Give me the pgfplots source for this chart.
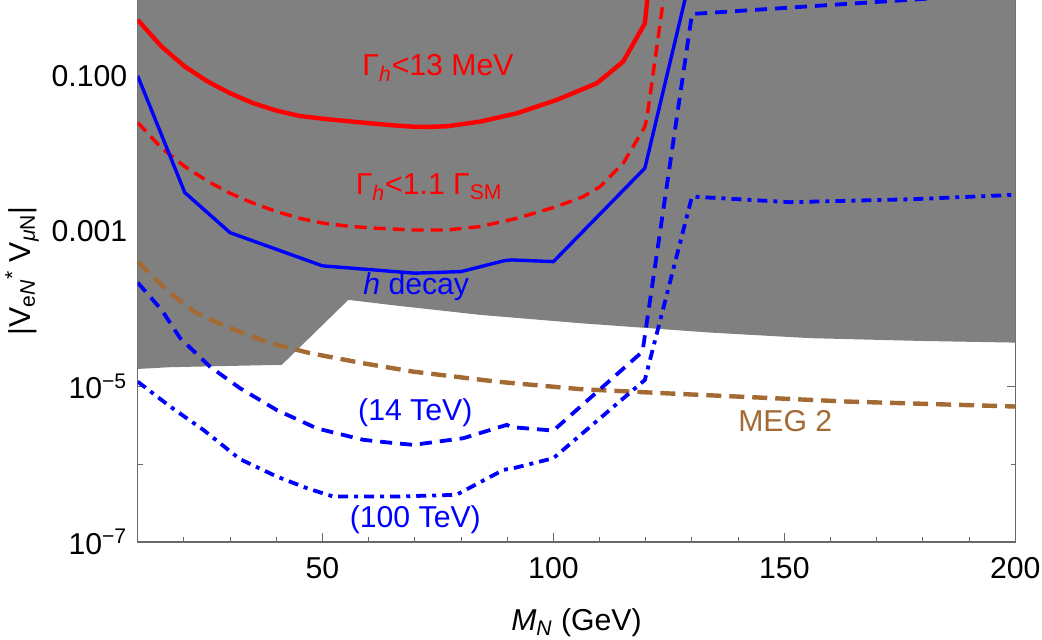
\documentclass[border=0pt]{standalone}
\usepackage{fontspec}
\setmainfont{Liberation Sans}
\usepackage{pgfplots}
\pgfplotsset{compat=1.18}

\definecolor{megbrown}{RGB}{163,106,52}
\definecolor{framegray}{RGB}{105,105,105}
\definecolor{exclgray}{RGB}{128,128,128}

\begin{document}
\fontsize{15.1}{17.5}\selectfont
\begin{tikzpicture}
\begin{axis}[
  at={(0pt,0pt)}, anchor=south west,
  scale only axis, width=438.8pt, height=271pt,
  xmin=10, xmax=200,
  ymode=log, ymin=1e-7, ymax=0.95,
  xtick={50,100,150,200},
  minor xtick={20,30,40,60,70,80,90,110,120,130,140,160,170,180,190},
  ytick={1e-7,1e-5,1e-3,1e-1},
  yticklabels={10\textsuperscript{−7},10\textsuperscript{−5},0.001,0.100},
  minor ytick={1e-6,1e-4,1e-2},
  /pgf/number format/assume math mode=true,
  tick label style={font=\fontsize{15.1}{17.5}\selectfont, black},
  xticklabel style={anchor=base, yshift=-18pt},
  axis line style={framegray, line width=0.6pt},
  tick style={framegray, line width=0.5pt},
  major tick length=4.4pt, minor tick length=2.4pt,
  xlabel={\textit{M}\textsubscript{\textit{N}} (GeV)},
  ylabel={|V\textsubscript{e\textit{N}}\textsuperscript{*} V\textsubscript{\textit{μ}N}|},
  xlabel style={at={(axis description cs:0.5,-0.1494)}, anchor=center},
  ylabel style={at={(axis description cs:-0.1318,0.5)}, anchor=center},
  label style={font=\fontsize{15.1}{17.5}\selectfont},
]

% excluded region (grey)
\addplot[fill=exclgray, draw=none] coordinates {
  (10,1.69e-5) (17,1.78e-5) (41.2,1.91e-5) (55.6,1.31e-4) (64.6,1.13e-4)
  (84.1,8.4e-5) (105.8,6.56e-5) (133.9,4.97e-5) (155.6,4.21e-5)
  (179.4,3.88e-5) (200,3.69e-5) (200,10) (10,10)
} --cycle;

% MEG 2 sensitivity
\addplot[megbrown, line width=2.2pt, dash pattern=on 7.5pt off 4pt] coordinates {
  (10,4.07e-4) (15.5,1.94e-4) (20.2,1.13e-4) (22.8,8.8e-5) (30,5.66e-5)
  (38.6,3.63e-5) (47.3,2.7e-5) (58.8,2.0e-5) (69.7,1.56e-5) (87.7,1.16e-5)
  (105.8,9.29e-6) (123.8,8.24e-6) (163.5,6.43e-6) (200,5.55e-6)
};

% Gamma_h < 13 MeV
\addplot[red, line width=2.2pt] coordinates {
  (10,0.526) (15.2,0.238) (20.2,0.132) (25.2,0.0845) (30,0.0599) (35,0.0446)
  (40.1,0.0357) (45.1,0.0305) (50,0.0282) (55,0.0263) (60.3,0.0246) (65,0.0232)
  (69.7,0.0222) (73,0.0221) (77,0.0225) (84.1,0.0258) (92.1,0.0331)
  (100.7,0.0491) (109.4,0.0805) (115.1,0.153) (119.8,0.476) (120.5,1.2)
};

% Gamma_h < 1.1 Gamma_SM
\addplot[red, line width=1.7pt, dash pattern=on 6pt off 3.5pt] coordinates {
  (10,0.0251) (15.2,0.01175) (20.2,0.00681) (25.3,0.00437) (30,0.00309)
  (35,0.0023) (40.1,0.00179) (45.1,0.00147) (50.2,0.00127) (55.2,0.00117)
  (61,0.00110) (69.7,0.00104) (76.9,0.00104) (84.1,0.00115) (92.1,0.00147)
  (100.7,0.00208) (106.5,0.0028) (110.1,0.00376) (115.1,0.0075)
  (119.8,0.0222) (120.3,0.03) (123.8,0.95) (124,1.1)
};

% h decay
\addplot[blue, line width=1.7pt] coordinates {
  (10,0.1) (20.2,0.00315) (30,0.00096) (50,0.000359) (70,0.000289)
  (80,0.000303) (89.5,0.00042) (91,0.000428) (100,0.000407)
  (119.8,0.00649) (130,2.3)
};

% 14 TeV
\addplot[blue, line width=1.9pt, dash pattern=on 6pt off 4pt] coordinates {
  (10,2.19e-4) (15.2,9.7e-5) (19.2,4.2e-5) (25.7,1.8e-5) (32.1,9.6e-6)
  (40.1,5.0e-6) (48.8,2.9e-6) (58.8,2.07e-6) (64.6,1.9e-6) (69.7,1.78e-6)
  (80.5,2.17e-6) (89.9,3.22e-6) (91,3.01e-6) (100,2.72e-6) (119.3,2.83e-5)
  (130,0.628) (176.5,0.95) (200,1.17)
};

% 100 TeV
\addplot[blue, line width=1.9pt, dash pattern=on 5pt off 3pt on 2pt off 3pt] coordinates {
  (10,1.16e-5) (17,5.56e-6) (24.2,2.78e-6) (32.1,1.17e-6) (40.1,6.97e-7)
  (46.6,4.94e-7) (52.3,3.85e-7) (66,3.85e-7) (79,4.05e-7) (89.2,8.5e-7)
  (91.3,8.9e-7) (100,1.2e-6) (119.8,1.22e-5) (130,0.0028) (151.2,0.00237)
  (177.9,0.00259) (200,0.00295)
};

\node[red] at (axis cs:75,0.127) {Γ\textsubscript{\textit{h}}<13 MeV};
\node[red] at (axis cs:73.1,0.00372) {Γ\textsubscript{\textit{h}}<1.1 Γ\textsubscript{SM}};
\node[blue] at (axis cs:70.3,1.92e-4) {\textit{h} decay};
\node[blue] at (axis cs:70.1,4.6e-6) {(14 TeV)};
\node[blue] at (axis cs:70.1,1.93e-7) {(100 TeV)};
\node[megbrown] at (axis cs:150.2,3.63e-6) {MEG 2};
\end{axis}
\pgfresetboundingbox
\path (-68.85pt,-49pt) rectangle (452.15pt,271pt);
\end{tikzpicture}
\end{document}
